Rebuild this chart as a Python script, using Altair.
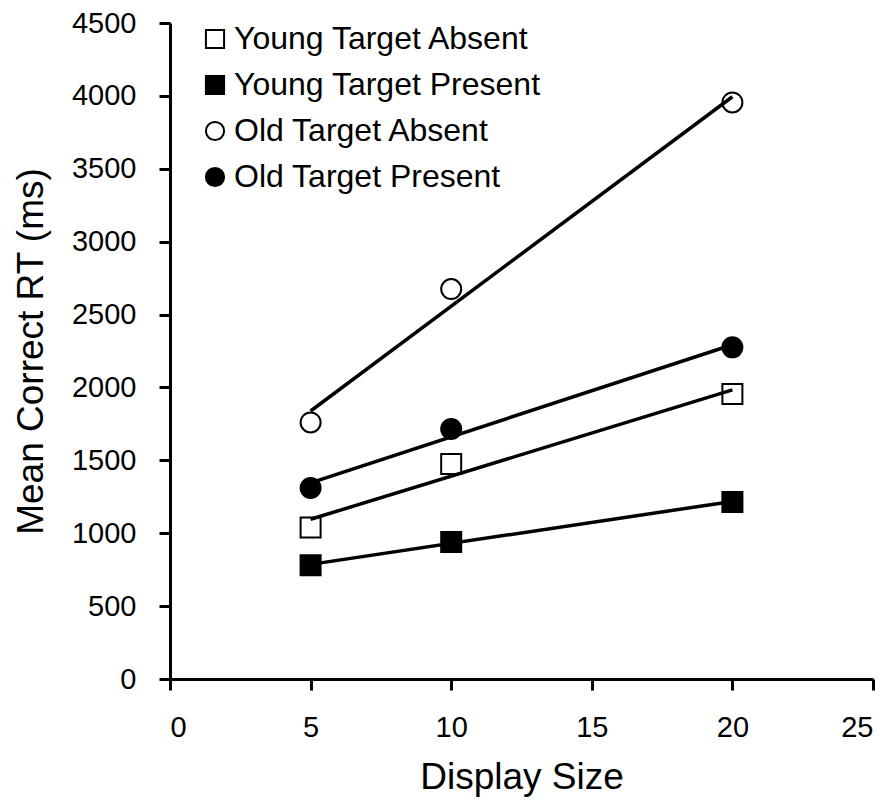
import altair as alt
import pandas as pd

# Mean correct reaction time by display size, for each age group / trial type
display_size = [5, 10, 20]
young_absent = [1040, 1475, 1955]
young_present = [780, 940, 1215]
old_absent = [1760, 2675, 3955]
old_present = [1310, 1715, 2275]

series_names = [
    "Young Target Absent",
    "Young Target Present",
    "Old Target Absent",
    "Old Target Present",
]
series_values = [young_absent, young_present, old_absent, old_present]
series_shapes = ["square", "square", "circle", "circle"]
series_fills = ["white", "black", "white", "black"]
series_strokes = ["black", "black", "black", "black"]

rows = []
for name, values in zip(series_names, series_values):
    for size, rt in zip(display_size, values):
        rows.append({"series": name, "size": size, "rt": rt})
df = pd.DataFrame(rows)

FONT = "Liberation Sans"

x_enc = alt.X(
    "size:Q",
    scale=alt.Scale(domain=[0, 25], nice=False),
    axis=alt.Axis(
        title="Display Size",
        values=[0, 5, 10, 15, 20, 25],
        format="d",
        titleY=109,
        titleBaseline="alphabetic",
        labelPadding=23,
    ),
)
y_enc = alt.Y(
    "rt:Q",
    scale=alt.Scale(domain=[0, 4500], nice=False),
    axis=alt.Axis(
        title="Mean Correct RT (ms)",
        values=list(range(0, 4501, 500)),
        format="d",
        titleX=-128,
        titleBaseline="alphabetic",
        labelPadding=23,
    ),
)

legend = alt.Legend(
    title=None,
    orient="none",
    legendX=29,
    legendY=0,
    padding=0,
    rowPadding=14,
    labelOffset=3,
    labelLimit=0,
    labelFont=FONT,
    labelFontSize=32,
    labelColor="black",
    symbolSize=330,
    symbolStrokeWidth=2,
    symbolOpacity=1,
)

points = (
    alt.Chart(df)
    .mark_point(size=400, strokeWidth=2, opacity=1)
    .encode(
        x=x_enc,
        y=y_enc,
        shape=alt.Shape(
            "series:N",
            scale=alt.Scale(domain=series_names, range=series_shapes),
            legend=legend,
        ),
        fill=alt.Fill(
            "series:N",
            scale=alt.Scale(domain=series_names, range=series_fills),
            legend=legend,
        ),
        stroke=alt.Stroke(
            "series:N",
            scale=alt.Scale(domain=series_names, range=series_strokes),
            legend=legend,
        ),
    )
)

# Least-squares trend line for each series, spanning the measured display sizes
trends = (
    alt.Chart(df)
    .transform_regression("size", "rt", groupby=["series"], extent=[5, 20])
    .mark_line(color="black", strokeWidth=3.5)
    .encode(x="size:Q", y="rt:Q", detail="series:N")
)

chart = (
    alt.layer(points, trends)
    .properties(
        width=703,
        height=656,
        autosize=alt.AutoSizeParams(type="none"),
        padding={"left": 170, "top": 23, "right": 20, "bottom": 130},
    )
    .configure_view(stroke=None)
    .configure_axis(
        grid=False,
        domainColor="black",
        domainWidth=3,
        tickColor="black",
        tickWidth=3,
        tickSize=11,
        labelFont=FONT,
        labelFontSize=29,
        labelColor="black",
        titleFont=FONT,
        titleFontSize=37,
        titleFontWeight="normal",
        titleColor="black",
    )
)

chart.save("out.html", embed_options={"renderer": "svg", "actions": False})
